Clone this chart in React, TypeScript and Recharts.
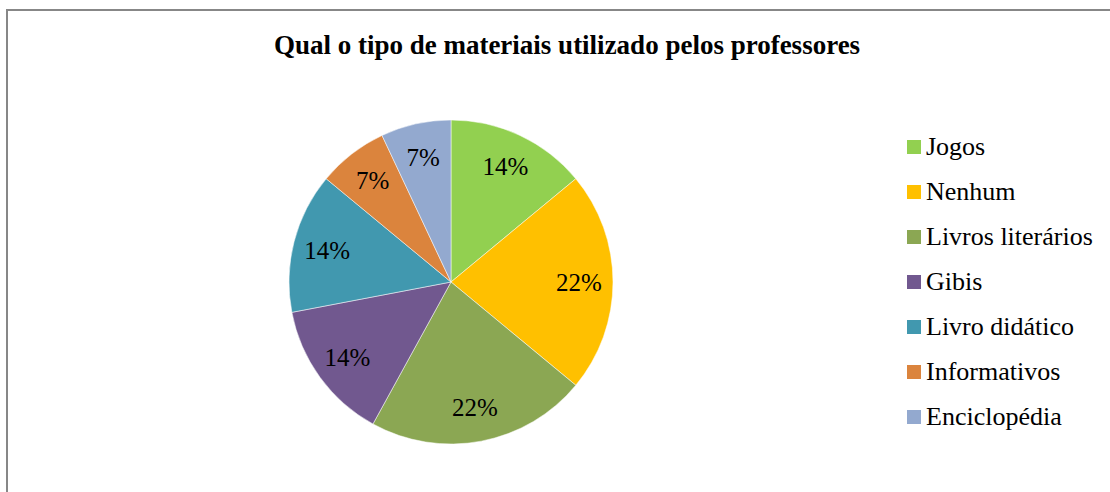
import { PieChart, Pie, Cell, Legend } from 'recharts'

const categories = ['Jogos', 'Nenhum', 'Livros literários', 'Gibis', 'Livro didático', 'Informativos', 'Enciclopédia']
const shares = [14, 22, 22, 14, 14, 7, 7]
const COLORS = ['#92D050', '#FFC000', '#8BA753', '#71588F', '#4198AF', '#DB843D', '#93A9CF']

const data = categories.map((name, i) => ({ name, value: shares[i] }))

const FONT = "'Liberation Serif', 'Times New Roman', Times, serif"
const RAD = Math.PI / 180

// rótulos de porcentagem dentro das fatias
const renderLabel = (p: any) => {
  const r = p.outerRadius * 0.79
  const x = p.cx + r * Math.cos(-p.midAngle * RAD)
  const y = p.cy + r * Math.sin(-p.midAngle * RAD)
  return (
    <text x={x} y={y} fill="#000" textAnchor="middle" dominantBaseline="central"
      style={{ fontFamily: FONT, fontSize: 25 }}>
      {`${p.value}%`}
    </text>
  )
}

const renderLegend = () => (
  <div style={{ fontFamily: FONT, fontSize: 26, color: '#000', lineHeight: '45px' }}>
    {data.map((d, i) => (
      <div key={d.name} style={{ display: 'flex', alignItems: 'center', height: 45, whiteSpace: 'nowrap' }}>
        <span style={{ width: 14, height: 14, background: COLORS[i], marginRight: 5, display: 'inline-block', flex: 'none' }} />
        <span>{d.name}</span>
      </div>
    ))}
  </div>
)

export default function App() {
  return (
    <div style={{ position: 'absolute', left: 0, top: 0, width: 1110, height: 492, overflow: 'hidden', background: '#fff' }}>
      <div style={{ position: 'absolute', left: 6, top: 9, width: 1130, height: 520, border: '2px solid #878787' }} />
      <div style={{
        position: 'absolute', left: 0, top: 30, width: 1134, textAlign: 'center',
        fontFamily: FONT, fontWeight: 'bold', fontSize: 27, color: '#000',
      }}>
        Qual o tipo de materiais utilizado pelos professores
      </div>
      <div style={{ position: 'absolute', left: 0, top: 0 }}>
        <PieChart width={1110} height={492} margin={{ top: 0, right: 0, bottom: 0, left: 0 }}>
          <Pie
            data={data}
            dataKey="value"
            nameKey="name"
            cx={451}
            cy={282}
            outerRadius={162}
            startAngle={90}
            endAngle={-270}
            stroke="#ffffff"
            strokeWidth={0.5}
            label={renderLabel}
            labelLine={false}
            isAnimationActive={false}
          >
            {data.map((d, i) => <Cell key={d.name} fill={COLORS[i]} />)}
          </Pie>
          <Legend
            layout="vertical"
            content={renderLegend}
            wrapperStyle={{ left: 907, top: 124, width: 200 }}
          />
        </PieChart>
      </div>
    </div>
  )
}
